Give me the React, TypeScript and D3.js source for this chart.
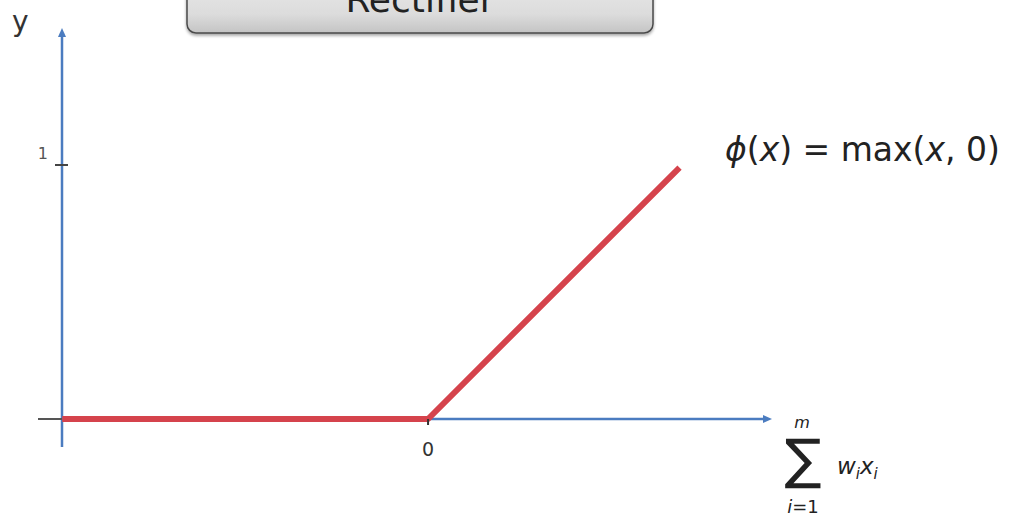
import React from "react";
import * as d3 from "d3";

// Rectifier (ReLU) activation: phi(x) = max(x, 0)
const reluInputs = [-1.44, 0, 0.99];
const reluOutputs = [0, 0, 0.99];
const xTickValues = [0];
const xTickLabels = ["0"];
const yTickValues = [1];
const yTickLabels = ["1"];
const title = "Rectifier";

const W = 1011;
const H = 519;

const x = d3.scaleLinear().domain([-1.441, 1.354]).range([62, 772]);
const y = d3.scaleLinear().domain([0, 1]).range([419, 165]);

const line = d3
  .line<number>()
  .x((_, i) => x(reluInputs[i]))
  .y((d) => y(d));

const blue = "#4b7cc0";
const red = "#d5434c";
const sans = "'DejaVu Sans', 'Open Sans', sans-serif";

export default function App() {
  const xLeft = x(-1.441);
  const xRight = x(1.354);
  const yTop = y(1.539);
  const yBottom = y(-0.11);
  return (
    <svg
      width={W}
      height={H}
      viewBox={`0 0 ${W} ${H}`}
      style={{ position: "absolute", left: 0, top: 0, background: "#fff" }}
    >
      <defs>
        <linearGradient id="btnFill" x1="0" y1="0" x2="0" y2="1">
          <stop offset="0%" stopColor="#ececec" />
          <stop offset="70%" stopColor="#dcdcdc" />
          <stop offset="100%" stopColor="#c4c4c4" />
        </linearGradient>
        <filter id="btnShadow" x="-5%" y="-50%" width="110%" height="200%">
          <feDropShadow dx="0" dy="2" stdDeviation="1.5" floodColor="#000" floodOpacity="0.35" />
        </filter>
      </defs>

      {/* title button */}
      <rect
        x={187}
        y={-30}
        width={466}
        height={63}
        rx={9}
        ry={9}
        fill="url(#btnFill)"
        stroke="#4a4a4a"
        strokeWidth={1.5}
        filter="url(#btnShadow)"
      />
      <text
        x={420}
        y={12}
        textAnchor="middle"
        fontFamily={sans}
        fontSize={36}
        fill="#222"
      >
        {title}
      </text>

      {/* axis name */}
      <text x={12} y={31} fontFamily={sans} fontSize={28} fill="#333">
        y
      </text>

      {/* y axis */}
      <line x1={xLeft} x2={xLeft} y1={yBottom} y2={yTop + 6} stroke={blue} strokeWidth={2.5} />
      <path
        d={`M${xLeft - 4},${yTop + 9} L${xLeft},${yTop} L${xLeft + 4},${yTop + 9} Z`}
        fill={blue}
      />
      {/* x axis */}
      <line x1={xLeft} x2={xRight - 6} y1={y(0)} y2={y(0)} stroke={blue} strokeWidth={2.5} />
      <path
        d={`M${xRight - 9},${y(0) - 4} L${xRight},${y(0)} L${xRight - 9},${y(0) + 4} Z`}
        fill={blue}
      />

      {/* baseline stub left of y axis */}
      <line x1={38} x2={xLeft} y1={y(0)} y2={y(0)} stroke="#555" strokeWidth={2} />

      {/* y ticks */}
      {yTickValues.map((v, i) => (
        <g key={`yt${i}`}>
          <line x1={55} x2={68} y1={y(v)} y2={y(v)} stroke="#444" strokeWidth={2} />
          <text
            x={48}
            y={y(v) - 6}
            textAnchor="end"
            fontFamily={sans}
            fontSize={16}
            fill="#555"
          >
            {yTickLabels[i]}
          </text>
        </g>
      ))}

      {/* rectifier curve */}
      <path
        d={line(reluOutputs) ?? ""}
        fill="none"
        stroke={red}
        strokeWidth={6}
        strokeLinejoin="round"
      />

      {/* x ticks */}
      {xTickValues.map((v, i) => (
        <g key={`xt${i}`}>
          <line x1={x(v)} x2={x(v)} y1={y(0)} y2={y(0) + 6} stroke="#333" strokeWidth={2} />
          <text
            x={x(v)}
            y={456}
            textAnchor="middle"
            fontFamily={sans}
            fontSize={19}
            fill="#333"
          >
            {xTickLabels[i]}
          </text>
        </g>
      ))}

      {/* function label */}
      <text x={725} y={161} fontFamily={sans} fontSize={33} fill="#222">
        <tspan fontStyle="italic">ϕ</tspan>
        <tspan>(</tspan>
        <tspan fontStyle="italic">x</tspan>
        <tspan>) = max(</tspan>
        <tspan fontStyle="italic">x</tspan>
        <tspan>, 0)</tspan>
      </text>

      {/* summation label for the x axis */}
      <g fontFamily={sans} fill="#222">
        <text x={802} y={428} textAnchor="middle" fontSize={16} fontStyle="italic">
          m
        </text>
        <text x={803} y={478} textAnchor="middle" fontSize={55}>
          ∑
        </text>
        <text x={803} y={513} textAnchor="middle" fontSize={18}>
          <tspan fontStyle="italic">i</tspan>
          <tspan>=1</tspan>
        </text>
        <text x={837} y={474} fontSize={23}>
          <tspan fontStyle="italic">w</tspan>
          <tspan fontStyle="italic" fontSize={15} dy={5}>i</tspan>
          <tspan fontStyle="italic" dy={-5}>x</tspan>
          <tspan fontStyle="italic" fontSize={15} dy={5}>i</tspan>
        </text>
      </g>
    </svg>
  );
}
